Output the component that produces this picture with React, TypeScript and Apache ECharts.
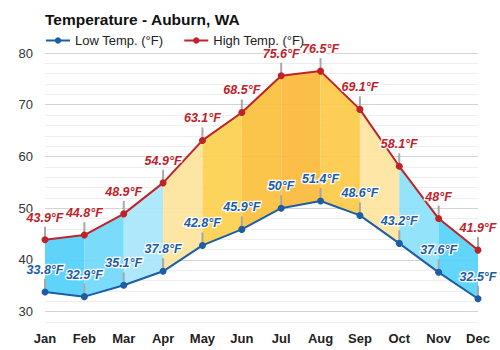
import React, { useEffect, useRef } from "react";
import * as echarts from "echarts";

const months = ["Jan", "Feb", "Mar", "Apr", "May", "Jun", "Jul", "Aug", "Sep", "Oct", "Nov", "Dec"];
const lowTemps = [33.8, 32.9, 35.1, 37.8, 42.8, 45.9, 50, 51.4, 48.6, 43.2, 37.6, 32.5];
const highTemps = [43.9, 44.8, 48.9, 54.9, 63.1, 68.5, 75.6, 76.5, 69.1, 58.1, 48, 41.9];
const bandColors = [
  "#52cffa", "#70d8fb", "#a8e6fb", "#fde49c", "#fcd04e", "#fbc03c",
  "#fbba3a", "#fcca48", "#fee4a0", "#8ae1fb", "#55d2fa",
];

const LOW_COLOR = "#1c5da6";
const HIGH_COLOR = "#c0222a";

export default function App() {
  const ref = useRef<HTMLDivElement>(null);
  useEffect(() => {
    if (!ref.current) return;
    const chart = echarts.init(ref.current, null, { renderer: "svg" });
    const labelBase = {
      show: true,
      position: "top",
      distance: 12,
      fontFamily: "Liberation Sans, Arial, sans-serif",
      fontSize: 12.5,
      fontWeight: "bold",
      fontStyle: "italic",
      textBorderColor: "#fff",
      textBorderWidth: 2.5,
      formatter: (p: any) => `${p.value}°F`,
    };
    chart.setOption({
      animation: false,
      textStyle: { fontFamily: "Liberation Sans, Arial, sans-serif" },
      title: {
        text: "Temperature - Auburn, WA",
        left: 40,
        top: 6,
        textStyle: { fontSize: 15.5, fontWeight: "bold", color: "#111" },
      },
      legend: {
        left: 40,
        top: 29,
        itemWidth: 24,
        itemHeight: 8,
        itemGap: 20,
        textStyle: { fontSize: 13, color: "#222" },
        data: ["Low Temp. (°F)", "High Temp. (°F)"],
      },
      grid: { left: 45, right: 22, top: 53, bottom: 28 },
      xAxis: {
        type: "category",
        data: months,
        boundaryGap: false,
        axisLine: { show: false },
        axisTick: { show: false },
        axisLabel: { fontSize: 13, fontWeight: "bold", color: "#222", margin: 10 },
        splitLine: { show: false },
      },
      yAxis: {
        type: "value",
        min: 28,
        max: 80,
        interval: 2,
        axisLine: { show: false },
        axisTick: { show: false },
        axisLabel: {
          fontSize: 13,
          color: "#333",
          margin: 12,
          formatter: (v: number) => (v % 10 === 0 ? String(v) : ""),
        },
        splitLine: {
          lineStyle: { color: ["#eeeeee", "#d4d4d4", "#eeeeee", "#eeeeee", "#eeeeee"], width: 1 },
        },
      },
      series: [
        {
          type: "custom",
          z: 1,
          silent: true,
          data: months.map((_, i) => [i, lowTemps[i], highTemps[i]]),
          renderItem: (params: any, api: any) => {
            const i = params.dataIndex;
            const children: any[] = [];
            if (i < months.length - 1) {
              const a = api.coord([i, lowTemps[i]]);
              const b = api.coord([i, highTemps[i]]);
              const c = api.coord([i + 1, highTemps[i + 1]]);
              const d = api.coord([i + 1, lowTemps[i + 1]]);
              children.push({
                type: "polygon",
                shape: { points: [a, b, c, d] },
                style: { fill: bandColors[i], opacity: 0.92 },
              });
            }
            const h = api.coord([i, highTemps[i]]);
            const l = api.coord([i, lowTemps[i]]);
            children.push({
              type: "line",
              shape: { x1: h[0], y1: h[1], x2: h[0], y2: h[1] - 13 },
              style: { stroke: "#a8a8a8", lineWidth: 2 },
            });
            children.push({
              type: "line",
              shape: { x1: l[0], y1: l[1], x2: l[0], y2: l[1] - 13 },
              style: { stroke: "#a8a8a8", lineWidth: 2 },
            });
            return { type: "group", children };
          },
        },
        {
          name: "Low Temp. (°F)",
          type: "line",
          z: 3,
          data: lowTemps,
          symbol: "circle",
          symbolSize: 7,
          itemStyle: { color: LOW_COLOR },
          lineStyle: { color: LOW_COLOR, width: 2 },
          label: { ...labelBase, color: LOW_COLOR },
        },
        {
          name: "High Temp. (°F)",
          type: "line",
          z: 3,
          data: highTemps,
          symbol: "circle",
          symbolSize: 7,
          itemStyle: { color: HIGH_COLOR },
          lineStyle: { color: HIGH_COLOR, width: 2 },
          label: { ...labelBase, color: HIGH_COLOR },
        },
      ],
    });
    return () => chart.dispose();
  }, []);
  return (
    <div
      ref={ref}
      style={{ position: "fixed", left: 0, top: 0, width: 500, height: 350, background: "#fff" }}
    />
  );
}
